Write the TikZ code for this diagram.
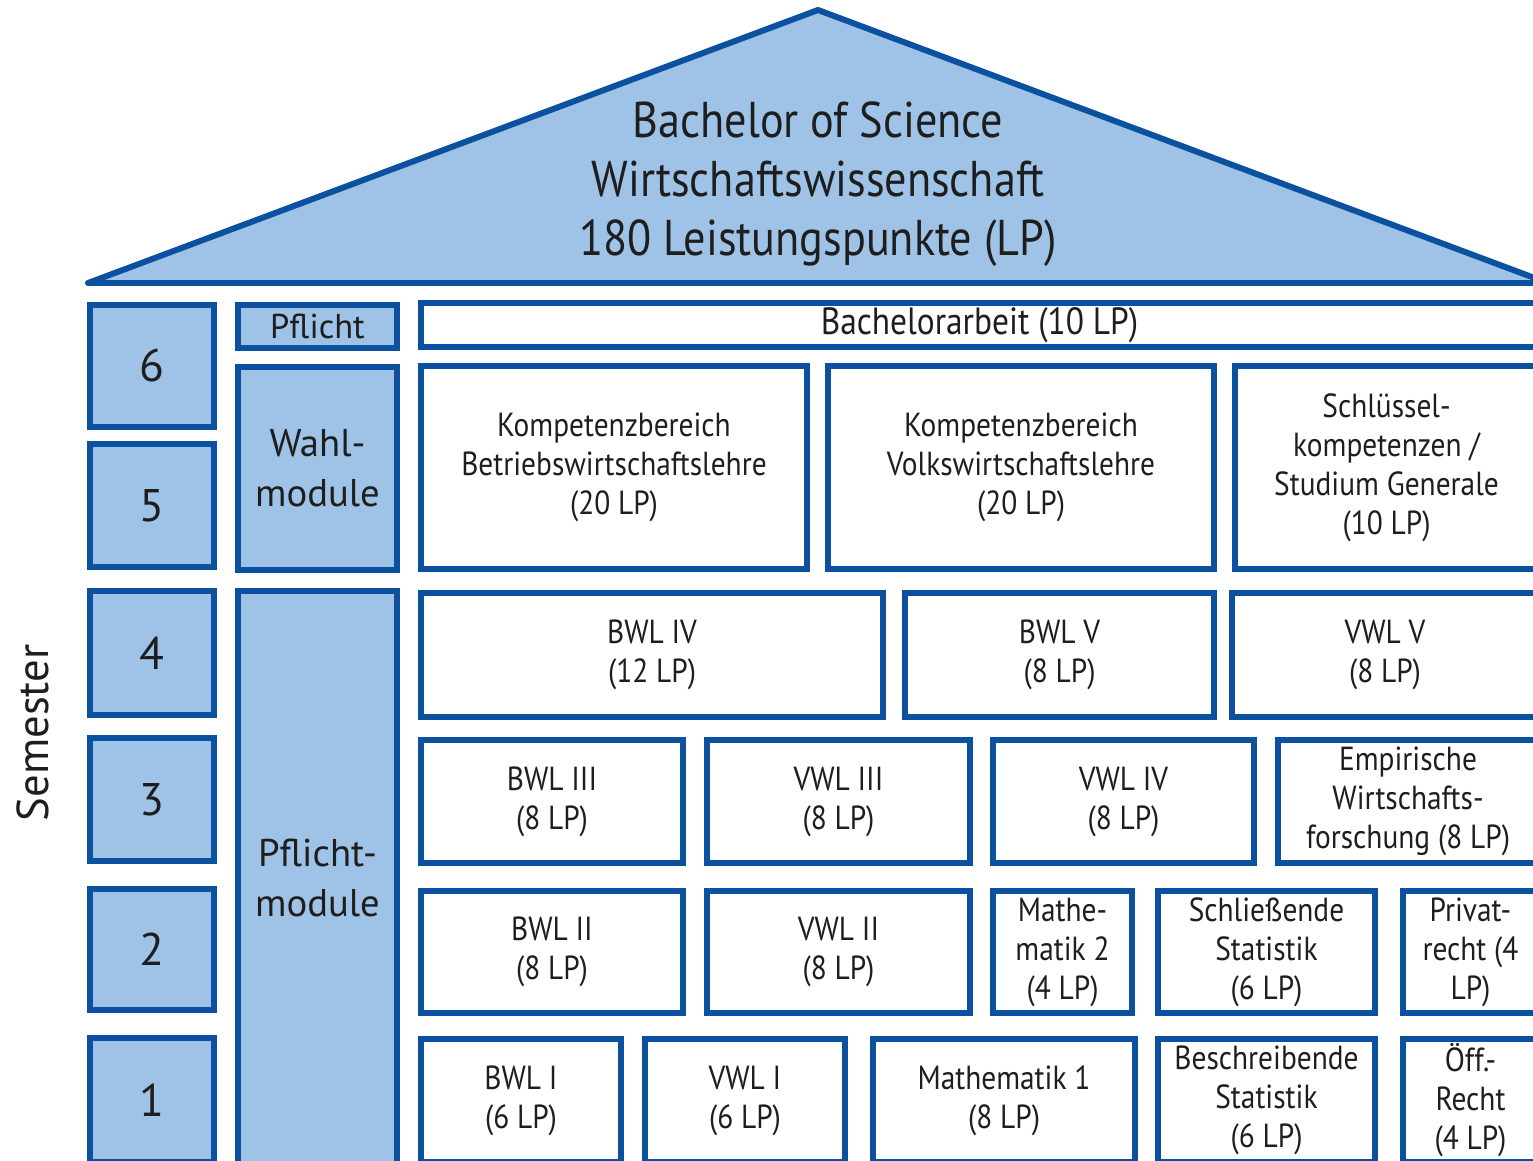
\documentclass[tikz,border=0pt]{standalone}
\usepackage{fontspec}
\setmainfont{PT Sans}
\newfontfamily\condfont[FakeStretch=0.88]{PT Sans}
\usepackage{tikz}
\usetikzlibrary{positioning}
\definecolor{hsdark}{RGB}{12,80,160}
\definecolor{hslight}{RGB}{158,195,230}
\definecolor{hstext}{RGB}{30,30,30}
\tikzstyle{sem} = [rectangle, draw=hsdark, fill=hslight, line width=1.7pt, minimum width=1.24cm, text=hstext, font=\fontsize{13}{15}\selectfont]
\tikzstyle{art} = [rectangle, draw=hsdark, fill=hslight, line width=1.7pt, minimum width=1.59cm, inner sep=0pt, align=center, text=hstext, font=\fontsize{11}{14.2}\selectfont]
\tikzstyle{modul} = [rectangle, draw=hsdark, fill=white, line width=1.7pt, inner sep=0pt, align=center, text=hstext, font=\condfont\fontsize{9.5}{11.1}\selectfont]
\tikzstyle{roof} = [draw=hsdark, fill=hslight, line width=1.7pt, line join=round]

\begin{document}
\begin{tikzpicture}

    \useasboundingbox (0, 0) rectangle (15.33, -11.61);
    \clip (0, 0) rectangle (15.33, -11.61);

    % Dach
    \draw [roof] (0.88, -2.83) -- (8.18, -0.10) -- (15.48, -2.83) -- cycle;
    \node (titel) [align=center, text=hstext, font=\condfont\fontsize{14.3}{16.8}\selectfont] at (8.18, -1.84) {Bachelor of Science\\Wirtschaftswissenschaft\\180 Leistungspunkte (LP)};

    % Semester
    \node (sem6) [sem, minimum height=1.22cm] at (1.52, -3.66) {6};
    \node (sem5) [sem, minimum height=1.23cm] at (1.52, -5.055) {5};
    \node (sem4) [sem, minimum height=1.24cm] at (1.52, -6.53) {4};
    \node (sem3) [sem, minimum height=1.23cm] at (1.52, -7.995) {3};
    \node (sem2) [sem, minimum height=1.21cm] at (1.52, -9.495) {2};
    \node (sem1) [sem, minimum height=1.24cm] at (1.52, -11.00) {1};
    \node (semester) [rotate=90, text=hstext, font=\fontsize{12.7}{15}\selectfont] at (0.33, -7.33) {Semester};

    % Modularten
    \node (pflicht) [art, minimum height=0.43cm, font=\fontsize{9.8}{11}\selectfont] at (3.175, -3.265) {Pflicht};
    \node (wahl) [art, minimum height=2.03cm] at (3.175, -4.685) {Wahl-\\module};
    \node (pflichtmod) [art, minimum height=5.74cm] at (3.175, -8.78) {Pflicht-\\module};

    % 6. Semester
    \node (bachelor) [modul, minimum width=11.17cm, minimum height=0.44cm, font=\condfont\fontsize{10.8}{12}\selectfont] at (9.795, -3.25) {Bachelorarbeit (10 LP)};

    % 5. und 6. Semester
    \node (kbwl) [modul, minimum width=3.86cm, minimum height=2.03cm] at (6.14, -4.675) {Kompetenzbereich\\Betriebswirtschaftslehre\\(20 LP)};
    \node (kvwl) [modul, minimum width=3.86cm, minimum height=2.03cm] at (10.21, -4.675) {Kompetenzbereich\\Volkswirtschaftslehre\\(20 LP)};
    \node (schluessel) [modul, minimum width=3.03cm, minimum height=2.03cm] at (13.865, -4.675) {Schlüssel-\\kompetenzen /\\Studium Generale\\(10 LP)};

    % 4. Semester
    \node (bwl4) [modul, minimum width=4.62cm, minimum height=1.24cm] at (6.52, -6.55) {BWL IV\\(12 LP)};
    \node (bwl5) [modul, minimum width=3.09cm, minimum height=1.24cm] at (10.595, -6.55) {BWL V\\(8 LP)};
    \node (vwl5) [modul, minimum width=3.06cm, minimum height=1.24cm] at (13.85, -6.55) {VWL V\\(8 LP)};

    % 3. Semester
    \node (bwl3) [modul, minimum width=2.62cm, minimum height=1.23cm] at (5.52, -8.015) {BWL III\\(8 LP)};
    \node (vwl3) [modul, minimum width=2.63cm, minimum height=1.23cm] at (8.385, -8.015) {VWL III\\(8 LP)};
    \node (vwl4) [modul, minimum width=2.61cm, minimum height=1.23cm] at (11.235, -8.015) {VWL IV\\(8 LP)};
    \node (empirie) [modul, minimum width=2.60cm, minimum height=1.23cm] at (14.08, -8.015) {Empirische\\Wirtschafts-\\forschung (8 LP)};

    % 2. Semester
    \node (bwl2) [modul, minimum width=2.62cm, minimum height=1.22cm] at (5.52, -9.52) {BWL II\\(8 LP)};
    \node (vwl2) [modul, minimum width=2.63cm, minimum height=1.22cm] at (8.385, -9.52) {VWL II\\(8 LP)};
    \node (mathe2) [modul, minimum width=1.39cm, minimum height=1.22cm] at (10.625, -9.52) {Mathe-\\matik 2\\(4 LP)};
    \node (schliess) [modul, minimum width=2.17cm, minimum height=1.22cm] at (12.665, -9.52) {Schließende\\Statistik\\(6 LP)};
    \node (privat) [modul, minimum width=1.35cm, minimum height=1.22cm] at (14.705, -9.52) {Privat-\\recht (4\\LP)};

    % 1. Semester
    \node (bwl1) [modul, minimum width=2.00cm, minimum height=1.23cm] at (5.21, -11.005) {BWL I\\(6 LP)};
    \node (vwl1) [modul, minimum width=2.00cm, minimum height=1.23cm] at (7.45, -11.005) {VWL I\\(6 LP)};
    \node (mathe1) [modul, minimum width=2.62cm, minimum height=1.23cm] at (10.04, -11.005) {Mathematik 1\\(8 LP)};
    \node (beschr) [modul, minimum width=2.17cm, minimum height=1.23cm] at (12.665, -11.005) {Beschreibende\\Statistik\\(6 LP)};
    \node (oeff) [modul, minimum width=1.35cm, minimum height=1.23cm] at (14.705, -11.005) {Öff.-\\Recht\\(4 LP)};

\end{tikzpicture}
\end{document}
